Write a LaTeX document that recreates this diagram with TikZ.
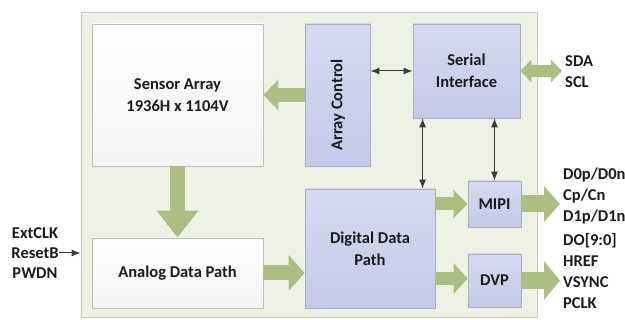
\documentclass[tikz,border=0pt]{standalone}
\usepackage{fontspec}
\setmainfont{Carlito}
\usetikzlibrary{arrows.meta,calc}
\definecolor{framefill}{HTML}{EEF2E4}
\definecolor{frameline}{HTML}{C9CCC2}
\definecolor{boxline}{HTML}{BDBDBD}
\definecolor{blueline}{HTML}{A9ADC4}
\definecolor{bluetop}{HTML}{D6DAF1}
\definecolor{bluebot}{HTML}{C4CAE8}
\definecolor{fatgreen}{HTML}{ACBE82}
\definecolor{thinline}{HTML}{3C3C3C}
\definecolor{labeltext}{HTML}{1A1A1A}
\tikzset{
  lbl/.style={font=\bfseries\fontsize{16.5}{22}\selectfont, text=labeltext, align=center},
  sidelbl/.style={font=\bfseries\fontsize{16.5}{21}\selectfont, text=labeltext, align=left, inner sep=0pt},
  framebox/.style={draw=frameline, fill=framefill, line width=0.8pt, inner sep=0pt},
  whitebox/.style={draw=boxline, top color=white, bottom color=gray!9, line width=0.8pt, inner sep=0pt, lbl},
  bluebox/.style={draw=blueline, top color=bluetop, bottom color=bluebot, line width=0.8pt, inner sep=0pt, lbl},
  fatarrow/.style={draw=fatgreen, line width=#1},
  thintip/.tip={Latex[length=9pt,width=7pt]},
  thinarrow/.style={draw=thinline, line width=1pt, thintip-thintip},
}
\begin{document}
\begin{tikzpicture}[x=1pt,y=-1pt]
\useasboundingbox (0,0) rectangle (625,320);

% chip outline
\node[framebox, minimum width=456pt, minimum height=305pt] (frame) at (309,164.5) {};

% functional blocks
\node[whitebox, minimum width=171pt, minimum height=142pt] (sensor) at (177.5,95) {Sensor Array\\1936H x 1104V};
\node[bluebox, minimum width=65pt, minimum height=142pt] (actrl) at (337.5,95) {};
\node[lbl, rotate=90] (actrltxt) at (338,105) {Array Control};
\node[bluebox, minimum width=107pt, minimum height=94pt] (serial) at (466.5,71) {Serial\\Interface};
\node[whitebox, minimum width=171pt, minimum height=70pt] (analog) at (177.5,273) {Analog Data Path};
\node[bluebox, minimum width=130pt, minimum height=119pt] (digital) at (370,248.5) {Digital Data\\Path};
\node[bluebox, minimum width=53pt, minimum height=46pt] (mipi) at (494.5,204) {MIPI};
\node[bluebox, minimum width=53pt, minimum height=53pt] (dvp) at (494.5,280.5) {DVP};

% external pins
\node[sidelbl, align=center, font=\bfseries\fontsize{16.5}{20}\selectfont] (inputs) at (35,253) {ExtCLK\\ResetB\\PWDN};
\node[sidelbl, anchor=west] (i2c) at (565,71.5) {SDA\\SCL};
\node[sidelbl, anchor=west] (mipipins) at (563,196) {D0p/D0n\\Cp/Cn\\D1p/D1n};
\node[sidelbl, anchor=west] (dvppins) at (563,271) {DO[9:0]\\HREF\\VSYNC\\PCLK};

\coordinate (i2cend) at (562,71);
\coordinate (mipiend) at (560,204);
\coordinate (dvpend) at (560,280.5);

% wide data paths
\draw[fatarrow=14pt, -{Triangle[length=15pt,width=30pt]}] (actrl.west) -- (sensor.east);
\draw[fatarrow=15pt, -{Triangle[length=27pt,width=40pt]}] (sensor.south) -- (analog.north);
\draw[fatarrow=15pt, -{Triangle[length=16pt,width=35pt]}] (analog.east) -- (analog.east -| digital.west);
\draw[fatarrow=13pt, -{Triangle[length=14pt,width=27pt]}] (mipi.west -| digital.east) -- (mipi.west);
\draw[fatarrow=13pt, -{Triangle[length=14pt,width=30pt]}] ($(dvp.west -| digital.east)+(0,-2)$) -- ($(dvp.west)+(0,-2)$);
\draw[fatarrow=17pt, -{Triangle[length=16pt,width=35pt]}] (mipi.east) -- (mipiend);
\draw[fatarrow=17pt, -{Triangle[length=16pt,width=38pt]}] (dvp.east) -- (dvpend);
\draw[fatarrow=12pt, {Triangle[length=11pt,width=22pt]}-{Triangle[length=11pt,width=22pt]}] (serial.east) -- (i2cend);

% control links
\draw[thinarrow] (serial.west -| actrl.east) -- (serial.west);
\draw[thinarrow] ([xshift=10pt]serial.south west) -- ([xshift=10pt]serial.south west |- digital.north);
\draw[thinarrow] (mipi.north |- serial.south) -- (mipi.north);
\draw[draw=thinline, line width=1pt, -thintip] (inputs.east) -- (inputs.east -| frame.west);
\end{tikzpicture}
\end{document}
